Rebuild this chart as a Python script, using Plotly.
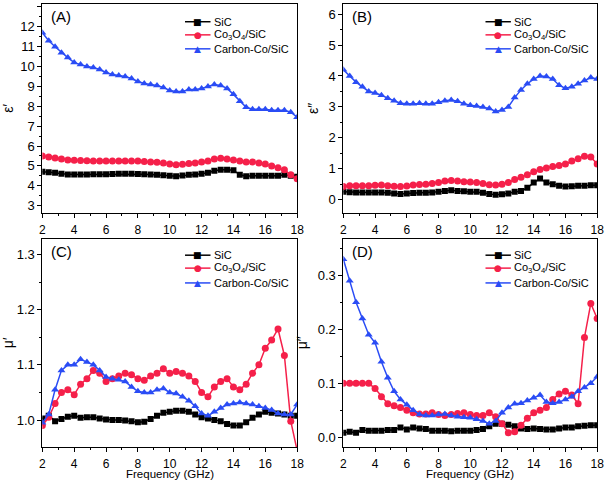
import plotly.graph_objects as go
from plotly.subplots import make_subplots

# Frequency grid (GHz), one point every 0.4 GHz
freq = [round(2 + 0.4 * i, 1) for i in range(41)]

names = ['SiC', 'Co<sub>3</sub>O<sub>4</sub>/SiC', 'Carbon-Co/SiC']
colors = ['#000000', '#f5204a', '#2a4cf5']
symbols = ['square', 'circle', 'triangle-up']
marker_sizes = [6, 7, 7]
legend_chars = ['\u25a0', '\u25cf', '\u25b2']

# (A) eps'
eps1_sic = [4.70, 4.68, 4.65, 4.60, 4.57, 4.57, 4.57, 4.57, 4.58, 4.58, 4.58, 4.59,
            4.60, 4.60, 4.60, 4.59, 4.58, 4.56, 4.55, 4.53, 4.50, 4.48, 4.52, 4.55,
            4.57, 4.60, 4.65, 4.75, 4.80, 4.80, 4.78, 4.55, 4.48, 4.50, 4.50, 4.50,
            4.50, 4.50, 4.55, 4.50, 4.45]
eps1_co = [5.50, 5.45, 5.40, 5.35, 5.30, 5.28, 5.27, 5.26, 5.25, 5.25, 5.24, 5.25,
           5.25, 5.25, 5.25, 5.24, 5.22, 5.20, 5.18, 5.15, 5.10, 5.06, 5.08, 5.12,
           5.15, 5.20, 5.25, 5.35, 5.38, 5.35, 5.30, 5.25, 5.20, 5.20, 5.15, 5.10,
           5.00, 4.90, 4.80, 4.55, 4.35]
eps1_c = [11.70, 11.30, 11.00, 10.70, 10.45, 10.20, 10.10, 10.00, 9.95, 9.85, 9.70, 9.60,
          9.55, 9.50, 9.40, 9.25, 9.15, 9.10, 9.05, 8.95, 8.80, 8.75, 8.75, 8.85,
          8.85, 8.90, 9.00, 9.10, 9.05, 8.90, 8.60, 8.25, 7.95, 7.85, 7.85, 7.85,
          7.80, 7.80, 7.80, 7.70, 7.45]

# (B) eps''
eps2_sic = [0.25, 0.24, 0.23, 0.23, 0.23, 0.23, 0.23, 0.22, 0.20, 0.18, 0.20, 0.21,
            0.22, 0.22, 0.23, 0.25, 0.28, 0.30, 0.28, 0.27, 0.25, 0.25, 0.22, 0.18,
            0.16, 0.17, 0.20, 0.25, 0.28, 0.38, 0.55, 0.68, 0.55, 0.50, 0.45, 0.42,
            0.43, 0.45, 0.45, 0.46, 0.46]
eps2_co = [0.42, 0.45, 0.45, 0.45, 0.45, 0.46, 0.47, 0.45, 0.43, 0.42, 0.44, 0.47,
           0.49, 0.50, 0.52, 0.55, 0.60, 0.62, 0.60, 0.58, 0.57, 0.55, 0.52, 0.48,
           0.47, 0.50, 0.55, 0.65, 0.72, 0.80, 0.90, 0.97, 1.02, 1.07, 1.10, 1.15,
           1.25, 1.32, 1.40, 1.38, 1.15]
eps2_c = [4.20, 4.00, 3.80, 3.65, 3.50, 3.45, 3.38, 3.28, 3.20, 3.12, 3.10, 3.10,
          3.12, 3.10, 3.10, 3.15, 3.20, 3.22, 3.18, 3.10, 3.05, 3.03, 3.00, 2.95,
          2.85, 2.90, 3.00, 3.30, 3.55, 3.75, 3.90, 4.00, 3.98, 3.90, 3.70, 3.60,
          3.65, 3.75, 3.85, 3.95, 3.90]

# (C) mu'
mu1_sic = [1.003, 1.008, 0.998, 1.002, 1.006, 1.008, 1.004, 1.005, 1.005, 1.003, 1.001, 1.000,
           1.000, 0.999, 0.998, 0.996, 0.997, 1.002, 1.008, 1.013, 1.015, 1.017, 1.017, 1.015,
           1.010, 1.005, 1.003, 1.000, 0.998, 0.993, 0.990, 0.990, 0.996, 1.004, 1.010, 1.015,
           1.013, 1.012, 1.010, 1.008, 1.008]
mu1_co = [0.990, 1.005, 1.030, 1.050, 1.055, 1.046, 1.065, 1.075, 1.090, 1.085, 1.070, 1.075,
          1.080, 1.085, 1.082, 1.075, 1.072, 1.080, 1.085, 1.093, 1.085, 1.088, 1.085, 1.080,
          1.070, 1.050, 1.042, 1.060, 1.070, 1.075, 1.060, 1.055, 1.065, 1.085, 1.100, 1.130,
          1.145, 1.165, 1.117, 0.998, 0.945]
mu1_c = [0.995, 1.010, 1.055, 1.090, 1.100, 1.100, 1.110, 1.105, 1.100, 1.090, 1.078, 1.075,
         1.073, 1.070, 1.060, 1.052, 1.050, 1.050, 1.055, 1.057, 1.050, 1.048, 1.042, 1.035,
         1.025, 1.012, 1.008, 1.015, 1.022, 1.028, 1.030, 1.032, 1.030, 1.028, 1.025, 1.022,
         1.018, 1.012, 1.010, 1.010, 1.028]

# (D) mu''
mu2_sic = [0.008, 0.010, 0.008, 0.013, 0.012, 0.012, 0.012, 0.013, 0.013, 0.018, 0.014, 0.018,
           0.016, 0.015, 0.012, 0.012, 0.012, 0.011, 0.012, 0.012, 0.012, 0.013, 0.015, 0.020,
           0.025, 0.025, 0.023, 0.020, 0.016, 0.015, 0.016, 0.015, 0.014, 0.014, 0.016, 0.018,
           0.018, 0.020, 0.021, 0.022, 0.022]
mu2_co = [0.100, 0.100, 0.100, 0.100, 0.100, 0.090, 0.075, 0.062, 0.058, 0.055, 0.050, 0.045,
          0.043, 0.043, 0.045, 0.042, 0.040, 0.042, 0.044, 0.045, 0.042, 0.040, 0.040, 0.045,
          0.038, 0.025, 0.008, 0.010, 0.022, 0.035, 0.045, 0.050, 0.055, 0.070, 0.080, 0.085,
          0.078, 0.062, 0.185, 0.248, 0.220]
mu2_c = [0.330, 0.290, 0.250, 0.220, 0.190, 0.175, 0.140, 0.110, 0.085, 0.070, 0.060, 0.050,
         0.042, 0.040, 0.040, 0.042, 0.043, 0.040, 0.038, 0.037, 0.036, 0.033, 0.030, 0.025,
         0.030, 0.045, 0.055, 0.062, 0.063, 0.068, 0.073, 0.078, 0.065, 0.063, 0.065, 0.070,
         0.075, 0.085, 0.092, 0.100, 0.112]

panels = [
    ('(A)', 'ε′', [eps1_sic, eps1_co, eps1_c], [2.65, 13.15], 1, 0.5, None),
    ('(B)', 'ε″', [eps2_sic, eps2_co, eps2_c], [-0.42, 6.33], 1, 0.5, None),
    ('(C)', 'μ′', [mu1_sic, mu1_co, mu1_c], [0.951, 1.329], 0.1, 0.05, '.1f'),
    ('(D)', 'μ″', [mu2_sic, mu2_co, mu2_c], [-0.0185, 0.3685], 0.1, 0.05, '.1f'),
]

W, H = 614, 483
xdoms = [[40 / W, 299 / W], [346 / W, 604 / W]]
ydoms = [[1 - 213 / H, 1 - 4 / H], [1 - 448 / H, 1 - 239 / H]]

fig = make_subplots(rows=2, cols=2)
font = 'Arial, Liberation Sans, sans-serif'

for k, (label, ytitle, series, yrange, dtick, mdtick, fmt) in enumerate(panels):
    r, c = k // 2 + 1, k % 2 + 1
    for j in range(3):
        fig.add_trace(go.Scatter(
            x=freq, y=series[j], mode='lines+markers', name=names[j],
            line=dict(color=colors[j], width=1.5),
            marker=dict(symbol=symbols[j], size=marker_sizes[j], color=colors[j]),
            showlegend=False
        ), row=r, col=c)
    fig.update_xaxes(
        domain=xdoms[c - 1], range=[2, 18], dtick=2, tick0=2,
        showline=True, linecolor='black', linewidth=1, mirror=True,
        ticks='outside', ticklen=4, tickcolor='black', showgrid=False, zeroline=False,
        minor=dict(ticks='outside', ticklen=2, dtick=1, tickcolor='black'),
        tickfont=dict(family=font, size=12, color='black'),
        ticklabeloverflow='allow', ticklabelstandoff=2,
        row=r, col=c)
    fig.update_yaxes(
        domain=ydoms[r - 1], range=yrange, dtick=dtick, tickformat=fmt,
        showline=True, linecolor='black', linewidth=1, mirror=True,
        ticks='outside', ticklen=4, tickcolor='black', showgrid=False, zeroline=False,
        minor=dict(ticks='outside', ticklen=2, dtick=mdtick, tickcolor='black'),
        tickfont=dict(family=font, size=13, color='black'),
        title=dict(text=ytitle, standoff=6, font=dict(family=font, size=14, color='black')),
        row=r, col=c)

    axn = '' if k == 0 else str(k + 1)
    xr, yr = f'x{axn} domain', f'y{axn} domain'
    fig.add_annotation(text=label, xref=xr, yref=yr, x=0.025, y=0.94,
                       xanchor='left', yanchor='middle', showarrow=False,
                       font=dict(family=font, size=15, color='black'))
    if r == 2:
        fig.add_annotation(text='Frequency (GHz)', xref=xr, yref='paper', x=0.5,
                           y=1 - 475 / H, xanchor='center', yanchor='middle', borderpad=0,
                           showarrow=False, font=dict(family=font, size=11.5, color='black'))
    # hand-drawn legend
    rows_y = [0.915, 0.852, 0.785] if r == 1 else [0.92, 0.858, 0.787]
    for j in range(3):
        fig.add_shape(type='line', xref=xr, yref=yr, x0=0.56, x1=0.66,
                      y0=rows_y[j], y1=rows_y[j], line=dict(color=colors[j], width=1.5))
        fig.add_annotation(text=legend_chars[j], xref=xr, yref=yr, x=0.61, y=rows_y[j],
                           xanchor='center', yanchor='middle', showarrow=False,
                           font=dict(family='DejaVu Sans', size=9, color=colors[j]))
        fig.add_annotation(text=names[j], xref=xr, yref=yr, x=0.665, y=rows_y[j],
                           xanchor='left', yanchor='middle', showarrow=False,
                           font=dict(family=font, size=11, color='black'))

fig.update_layout(
    width=W, height=H,
    margin=dict(l=0, r=0, t=0, b=0),
    paper_bgcolor='white', plot_bgcolor='white',
    showlegend=False
)

# the page body has a default 8px margin; remove it so the figure fills the window
fig.write_html('out.html', config={'displayModeBar': False},
               post_script="document.body.style.margin='0px';")
